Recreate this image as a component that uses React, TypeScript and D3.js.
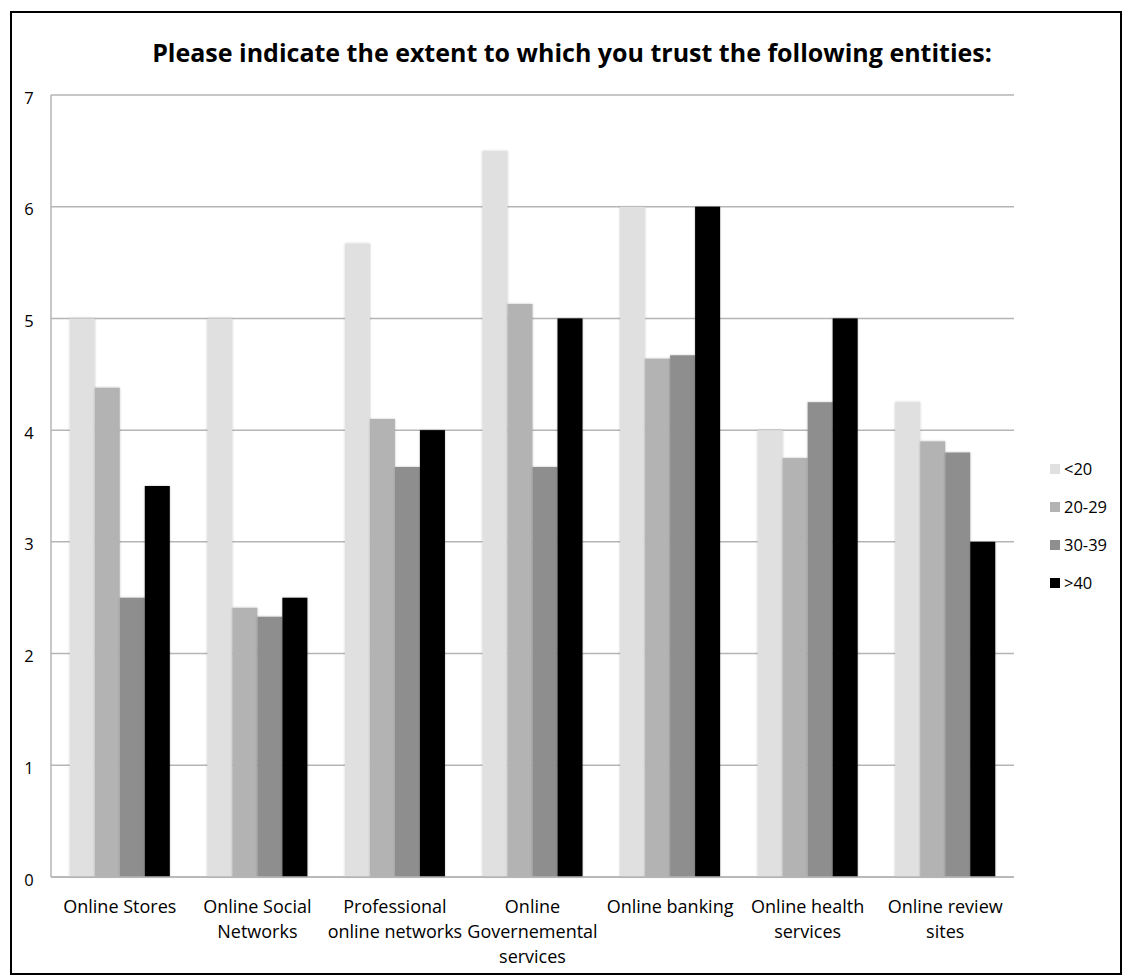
import React from "react";
import * as d3 from "d3";

// Survey: trust in online entities, by age group (1–7 scale)
const categories: string[] = [
  "Online Stores",
  "Online Social Networks",
  "Professional online networks",
  "Online Governemental services",
  "Online banking",
  "Online health services",
  "Online review sites",
];

// Wrapped category labels as they appear under the axis
const categoryLines: string[][] = [
  ["Online Stores"],
  ["Online Social", "Networks"],
  ["Professional", "online networks"],
  ["Online", "Governemental", "services"],
  ["Online banking"],
  ["Online health", "services"],
  ["Online review", "sites"],
];

const seriesNames: string[] = ["<20", "20-29", "30-39", ">40"];

const under20: number[] = [5.0, 5.0, 5.67, 6.5, 6.0, 4.0, 4.25];
const age20to29: number[] = [4.38, 2.41, 4.1, 5.13, 4.64, 3.75, 3.9];
const age30to39: number[] = [2.5, 2.33, 3.67, 3.67, 4.67, 4.25, 3.8];
const over40: number[] = [3.5, 2.5, 4.0, 5.0, 6.0, 5.0, 3.0];

const seriesValues: number[][] = [under20, age20to29, age30to39, over40];

const yTicks: number[] = [0, 1, 2, 3, 4, 5, 6, 7];

const seriesColors: string[] = ["#e0e0e0", "#b3b3b3", "#8e8e8e", "#000000"];

const TITLE = "Please indicate the extent to which you trust the following entities:";

const W = 1123;
const H = 976;
const plot = { left: 51, right: 1014, top: 95, bottom: 877 };

export default function App() {
  const x0 = d3
    .scaleBand<string>()
    .domain(categories)
    .range([plot.left, plot.right])
    .paddingInner(0)
    .paddingOuter(0);

  const bw = x0.bandwidth();
  const barUnit = bw / 5.5; // 150% gap between groups
  const x1 = d3
    .scaleBand<string>()
    .domain(seriesNames)
    .range([0.75 * barUnit, bw - 0.75 * barUnit])
    .padding(0);

  const y = d3.scaleLinear().domain([0, 7]).range([plot.bottom, plot.top]);

  const font = "'Open Sans', Lato, 'DejaVu Sans', sans-serif";
  const gridColor = "#b5b5b5";

  return (
    <svg
      width={W}
      height={H}
      viewBox={`0 0 ${W} ${H}`}
      style={{ position: "fixed", left: 0, top: 0, display: "block", background: "#fff" }}
      fontFamily={font}
    >
      <defs>
        <filter id="barShadow" x="-20%" y="-5%" width="140%" height="110%">
          <feGaussianBlur in="SourceAlpha" stdDeviation="0.8" />
          <feComponentTransfer>
            <feFuncA type="linear" slope="0.25" />
          </feComponentTransfer>
          <feMerge>
            <feMergeNode />
            <feMergeNode in="SourceGraphic" />
          </feMerge>
        </filter>
      </defs>

      <rect x={0} y={0} width={W} height={H} fill="#fff" />
      {/* outer frame */}
      <rect x={11} y={12} width={1110} height={962} fill="none" stroke="#000" strokeWidth={2} />

      {/* title */}
      <text
        x={572}
        y={62}
        textAnchor="middle"
        fontSize={25}
        fontWeight={700}
        fill="#000"
      >
        {TITLE}
      </text>

      {/* gridlines */}
      {yTicks.map((t) => (
        <line
          key={`g${t}`}
          x1={plot.left}
          x2={plot.right}
          y1={y(t)}
          y2={y(t)}
          stroke={gridColor}
          strokeWidth={1.5}
        />
      ))}
      {/* y axis line */}
      <line x1={plot.left} x2={plot.left} y1={y(7)} y2={y(0)} stroke={gridColor} strokeWidth={1.5} />

      {/* y tick labels */}
      {yTicks.map((t) => (
        <text
          key={`t${t}`}
          x={29}
          y={y(t) + 8.5}
          textAnchor="middle"
          fontSize={16.5}
          fill="#000"
        >
          {t}
        </text>
      ))}

      {/* bars */}
      {categories.map((c, ci) => (
        <g key={c} transform={`translate(${x0(c)},0)`}>
          {seriesNames.map((s, si) => {
            const v = seriesValues[si][ci];
            return (
              <rect
                key={s}
                x={x1(s)}
                y={y(v)}
                width={x1.bandwidth()}
                height={y(0) - y(v)}
                fill={seriesColors[si]}
                filter="url(#barShadow)"
              />
            );
          })}
        </g>
      ))}

      {/* baseline on top of bars */}
      <line x1={plot.left} x2={plot.right} y1={y(0)} y2={y(0)} stroke={gridColor} strokeWidth={1.5} />

      {/* category labels */}
      {categories.map((c, ci) => (
        <text
          key={`c${c}`}
          x={(x0(c) as number) + bw / 2}
          y={913}
          textAnchor="middle"
          fontSize={18}
          fill="#000"
        >
          {categoryLines[ci].map((line, li) => (
            <tspan key={li} x={(x0(c) as number) + bw / 2} dy={li === 0 ? 0 : 25}>
              {line}
            </tspan>
          ))}
        </text>
      ))}

      {/* legend */}
      {seriesNames.map((s, si) => (
        <g key={`l${s}`} transform={`translate(1050, ${469 + si * 38})`}>
          <rect x={0} y={-5} width={10} height={10} fill={seriesColors[si]} />
          <text x={14} y={6} fontSize={16.5} fill="#000">
            {s}
          </text>
        </g>
      ))}
    </svg>
  );
}
